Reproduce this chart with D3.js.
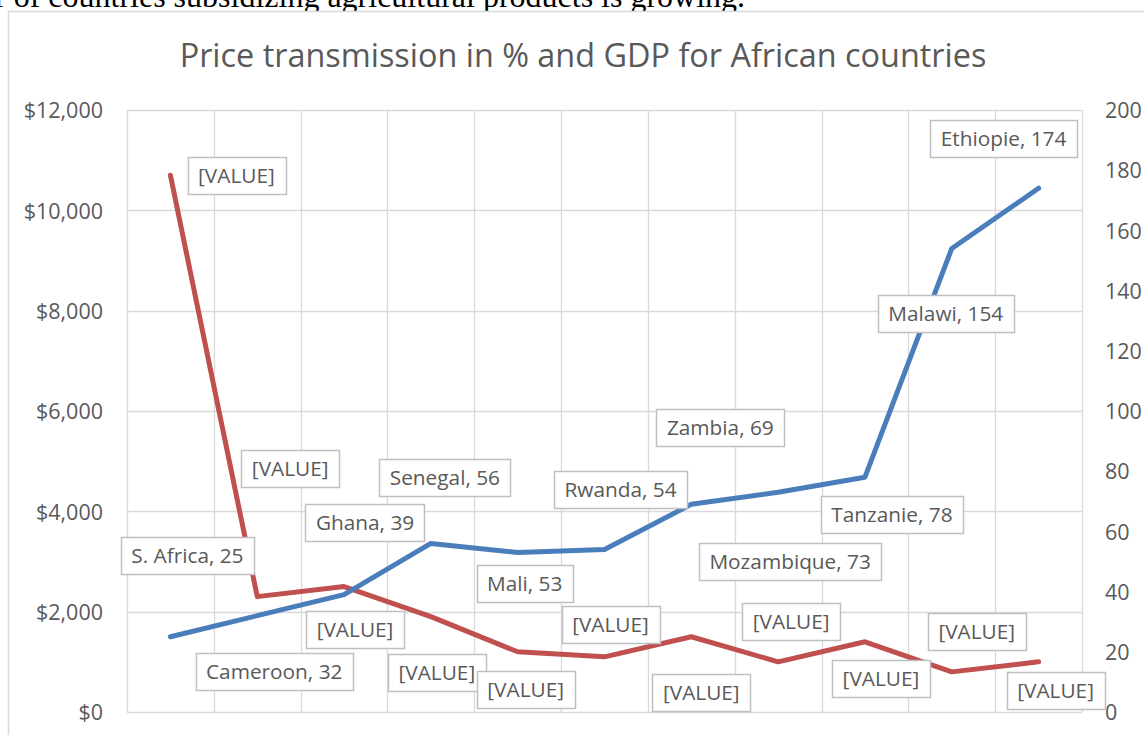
<!DOCTYPE html>
<html>
<head>
<meta charset="utf-8">
<script src="https://cdn.jsdelivr.net/npm/d3@7"></script>
<style>
  html, body { margin: 0; padding: 0; background: #fff; overflow: hidden; }
  svg { display: block; }
</style>
</head>
<body>
<svg id="chart" width="1144" height="735"></svg>
<script>
// ---- data ----
const countries = ["S. Africa", "Cameroon", "Ghana", "Senegal", "Mali", "Rwanda", "Zambia", "Mozambique", "Tanzanie", "Malawi", "Ethiopie"];
const priceTransmission = [25, 32, 39, 56, 53, 54, 69, 73, 78, 154, 174];
const gdp = [10700, 2300, 2500, 1900, 1200, 1100, 1500, 1000, 1400, 800, 1000];
const leftTicks = [0, 2000, 4000, 6000, 8000, 10000, 12000];
const rightTicks = [0, 20, 40, 60, 80, 100, 120, 140, 160, 180, 200];
const titleText = "Price transmission in % and GDP for African countries";
const pageText = "r of countries subsidizing agricultural products is growing.";

// label offsets (layout, kept apart from data)
const blueLabelOffsets = [[17,-81],[17,56],[21,-72],[14,-66],[7,31],[16,-60],[29,-77],[12,69],[27,37],[-6,65],[-35,-50]];
const redLabelOffsets = [[66,0],[33,-128],[11,43],[6,56],[8,38],[6,-32],[10,56],[13,-40],[16,37],[25,-40],[17,29]];

const svg = d3.select("#chart");
const FONT = "'Open Sans', sans-serif";
const TXT = "#595959";
const GRID = "#d9d9d9";
const BLUE = "#4a7ebb";
const RED = "#c0504d";

// page text above chart (cut off at the top, as in the source document)
svg.append("text")
  .attr("x", -5).attr("y", 7)
  .attr("font-family", "'Liberation Serif', 'Times New Roman', serif")
  .attr("font-size", 32)
  .attr("fill", "#000")
  .text(pageText);

// chart frame
svg.append("rect")
  .attr("x", 8.5).attr("y", 11.5)
  .attr("width", 1160).attr("height", 760)
  .attr("fill", "#fff").attr("stroke", GRID).attr("stroke-width", 1.5);

const pLeft = 127, pRight = 1082, pTop = 110, pBottom = 712;

const x = d3.scaleBand().domain(countries).range([pLeft, pRight]).padding(0);
const yL = d3.scaleLinear().domain([0, 12000]).range([pBottom, pTop]);
const yR = d3.scaleLinear().domain([0, 200]).range([pBottom, pTop]);
const cx = d => x(d) + x.bandwidth() / 2;

// horizontal grid
svg.append("g").selectAll("line").data(leftTicks).join("line")
  .attr("x1", pLeft).attr("x2", pRight)
  .attr("y1", d => Math.round(yL(d)) + 0.5).attr("y2", d => Math.round(yL(d)) + 0.5)
  .attr("stroke", GRID).attr("stroke-width", 1.3);

// vertical grid (category boundaries)
const vBounds = countries.map(c => x(c)).concat([pRight]);
svg.append("g").selectAll("line").data(vBounds).join("line")
  .attr("x1", d => Math.round(d) + 0.5).attr("x2", d => Math.round(d) + 0.5)
  .attr("y1", pTop).attr("y2", pBottom)
  .attr("stroke", GRID).attr("stroke-width", 1.3);

// left axis
const leftAxis = d3.axisLeft(yL).tickValues(leftTicks).tickSize(0).tickPadding(0)
  .tickFormat(d => "$" + d3.format(",")(d));
const gL = svg.append("g").attr("transform", `translate(${pLeft - 24},0)`).call(leftAxis);
gL.select(".domain").remove();
gL.selectAll("text").attr("font-family", FONT).attr("font-size", 21.5).attr("fill", TXT).attr("dy", "0.36em");

// right axis
const rightAxis = d3.axisRight(yR).tickValues(rightTicks).tickSize(0).tickPadding(0);
const gR = svg.append("g").attr("transform", `translate(${pRight + 23},0)`).call(rightAxis);
gR.select(".domain").remove();
gR.selectAll("text").attr("font-family", FONT).attr("font-size", 21.5).attr("fill", TXT).attr("dy", "0.36em");

// title
svg.append("text")
  .attr("x", 583).attr("y", 67)
  .attr("text-anchor", "middle")
  .attr("font-family", FONT).attr("font-size", 32.4).attr("fill", TXT)
  .text(titleText);

// lines
const redLine = d3.line().x((d, i) => cx(countries[i])).y(d => yL(d));
const blueLine = d3.line().x((d, i) => cx(countries[i])).y(d => yR(d));

svg.append("path").datum(gdp).attr("d", redLine)
  .attr("fill", "none").attr("stroke", RED).attr("stroke-width", 5)
  .attr("stroke-linejoin", "round").attr("stroke-linecap", "round");
svg.append("path").datum(priceTransmission).attr("d", blueLine)
  .attr("fill", "none").attr("stroke", BLUE).attr("stroke-width", 5)
  .attr("stroke-linejoin", "round").attr("stroke-linecap", "round");

// labels
function drawLabel(g, px, py, text) {
  const t = g.append("text")
    .attr("x", px).attr("y", py)
    .attr("text-anchor", "middle").attr("dy", "0.36em")
    .attr("font-family", FONT).attr("font-size", 20.8).attr("fill", TXT)
    .text(text);
  const bb = t.node().getBBox();
  const padX = 10.5, h = 37;
  g.insert("rect", "text")
    .attr("x", Math.round(bb.x - padX) + 0.5)
    .attr("y", Math.round(py - h / 2) + 0.5)
    .attr("width", Math.round(bb.width + padX * 2))
    .attr("height", h)
    .attr("fill", "#fff").attr("stroke", "#bfbfbf").attr("stroke-width", 1.5);
}

const labelsG = svg.append("g");
gdp.forEach((v, i) => {
  const g = labelsG.append("g");
  drawLabel(g, cx(countries[i]) + redLabelOffsets[i][0], yL(v) + redLabelOffsets[i][1], "[VALUE]");
});
priceTransmission.forEach((v, i) => {
  const g = labelsG.append("g");
  drawLabel(g, cx(countries[i]) + blueLabelOffsets[i][0], yR(v) + blueLabelOffsets[i][1], countries[i] + ", " + v);
});
</script>
</body>
</html>
